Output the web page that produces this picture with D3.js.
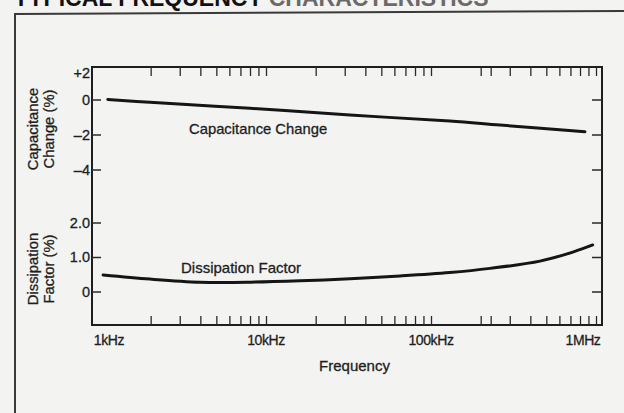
<!DOCTYPE html>
<html>
<head>
<meta charset="utf-8">
<script src="https://cdn.jsdelivr.net/npm/d3@7/dist/d3.min.js"></script>
<style>
  html, body { margin: 0; padding: 0; background: #f3f3f1; }
  svg { display: block; }
  text { font-family: "Liberation Sans", Arial, Helvetica, sans-serif; fill: #1e1e1e; stroke: #1e1e1e; stroke-width: 0.3px; }
</style>
</head>
<body>
<script>
// ---------- data ----------
const titleParts = ["TYPICAL FREQUENCY ", "CHARACTERISTICS"];

// Capacitance change (%) vs frequency (Hz)
const capFreq  = [1100, 1980, 8000, 32300, 130000, 262000, 857000];
const capValue = [0.0, -0.16, -0.50, -0.89, -1.23, -1.46, -1.84];

// Dissipation factor (%) vs frequency (Hz)
const dfFreq  = [1030, 1980, 3980, 8000, 16100, 32300, 65000, 130000, 228000, 458000, 731000, 955000];
const dfValue = [0.48, 0.36, 0.27, 0.27, 0.31, 0.37, 0.45, 0.55, 0.67, 0.88, 1.15, 1.35];

const xLabelValues = [1e3, 1e4, 1e5, 1e6];
const xLabels      = ["1kHz", "10kHz", "100kHz", "1MHz"];
const xMinorTicks  = [2e3, 3e3, 4e3, 5e3, 6e3, 7e3, 8e3, 9e3, 1e4,
                      2e4, 3e4, 4e4, 5e4, 6e4, 7e4, 8e4, 9e4, 1e5,
                      2e5, 2.3e5, 3e5, 4e5, 5e5, 6e5, 7e5, 8e5, 9e5, 1e6];

const capTickValues = [0, -2, -4];
const capLabelValues = [2, 0, -2, -4];
const capLabels = ["+2", "0", "\u20132", "\u20134"];

const dfTickValues = [2, 1, 0];
const dfLabels = ["2.0", "1.0", "0"];

// ---------- layout ----------
const W = 624, H = 413;
const frame = { left: 92, right: 602, top: 67, bottom: 325 };

const svg = d3.select("body").append("svg").attr("width", W).attr("height", H);
svg.append("rect").attr("width", W).attr("height", H).attr("fill", "#f3f3f1");

// title (cut at top edge, as in the scanned reference)
const title = svg.append("text").attr("x", 14).attr("y", 6)
  .attr("font-size", 23).attr("font-weight", "bold");
title.append("tspan").text(titleParts[0]).style("fill", "#111").style("stroke", "none");
title.append("tspan").text(titleParts[1]).style("fill", "#6a6a6a").style("stroke", "none");

// outer box
svg.append("path")
  .attr("d", `M15,${H} L15,14 L${W},11`)
  .attr("fill", "none").attr("stroke", "#3a3a3a").attr("stroke-width", 2);

// scales
const x = d3.scaleLog().domain([1e3, 1e6]).range([101, 596]);
const yCap = d3.scaleLinear().domain([-4, 0]).range([169.5, 99.5]);
const yDf = d3.scaleLinear().domain([0, 2]).range([291.5, 222.5]);

// frame
svg.append("rect")
  .attr("x", frame.left).attr("y", frame.top)
  .attr("width", frame.right - frame.left).attr("height", frame.bottom - frame.top)
  .attr("fill", "none").attr("stroke", "#1e1e1e").attr("stroke-width", 2);

// x ticks (bottom & top, inward)
const tickLen = 9;
const bottomAxis = d3.axisTop(x).tickValues(xMinorTicks).tickSize(tickLen).tickFormat("");
const topAxis = d3.axisBottom(x).tickValues(xMinorTicks).tickSize(tickLen).tickFormat("");
const gb = svg.append("g").attr("transform", `translate(0,${frame.bottom})`).call(bottomAxis);
const gt = svg.append("g").attr("transform", `translate(0,${frame.top})`).call(topAxis);
[gb, gt].forEach(g => {
  g.select(".domain").remove();
  g.selectAll("line").attr("stroke", "#2a2a2a").attr("stroke-width", 1.3);
});

// x labels
const xLabelShift = [8, 0, 0, -13];
svg.append("g").selectAll("text").data(xLabelValues).join("text")
  .attr("x", (d, i) => x(d) + xLabelShift[i])
  .attr("y", 344.5)
  .attr("text-anchor", "middle")
  .attr("font-size", 14)
  .attr("letter-spacing", -0.4)
  .text((d, i) => xLabels[i]);

svg.append("text").attr("x", 354.5).attr("y", 371)
  .attr("text-anchor", "middle").attr("font-size", 15).text("Frequency");

// y ticks (left & right inward)
function yTicks(scale, values) {
  const l = d3.axisRight(scale).tickValues(values).tickSize(9).tickFormat("");
  const r = d3.axisLeft(scale).tickValues(values).tickSize(10).tickFormat("");
  const gl = svg.append("g").attr("transform", `translate(${frame.left},0)`).call(l);
  const gr = svg.append("g").attr("transform", `translate(${frame.right},0)`).call(r);
  [gl, gr].forEach(g => {
    g.select(".domain").remove();
    g.selectAll("line").attr("stroke", "#2a2a2a").attr("stroke-width", 1.5);
  });
}
yTicks(yCap, capTickValues);
yTicks(yDf, dfTickValues);

// y labels
const capLabelDy = [8, 0, 0, 0];
svg.append("g").selectAll("text").data(capLabelValues).join("text")
  .attr("x", 90).attr("y", (d, i) => yCap(d) + 5 + capLabelDy[i])
  .attr("text-anchor", "end").attr("font-size", 14.5)
  .text((d, i) => capLabels[i]);

svg.append("g").selectAll("text").data(dfTickValues).join("text")
  .attr("x", 90).attr("y", d => yDf(d) + 5)
  .attr("text-anchor", "end").attr("font-size", 14.5)
  .text((d, i) => dfLabels[i]);

// rotated y titles
function yTitle(lines, cy) {
  const t = svg.append("text")
    .attr("transform", `translate(37.5,${cy}) rotate(-90)`)
    .attr("text-anchor", "middle").attr("font-size", 14.8);
  lines.forEach((s, i) => t.append("tspan").attr("x", 0).attr("dy", i === 0 ? 0 : 16).text(s));
}
yTitle(["Capacitance", "Change (%)"], 129);
yTitle(["Dissipation", "Factor (%)"], 269);

// curves
const line = d3.line().curve(d3.curveCatmullRom.alpha(0.5));
svg.append("path")
  .attr("d", line(capFreq.map((f, i) => [x(f), yCap(capValue[i])])))
  .attr("fill", "none").attr("stroke", "#151515").attr("stroke-width", 3)
  .attr("stroke-linecap", "round");
svg.append("path")
  .attr("d", line(dfFreq.map((f, i) => [x(f), yDf(dfValue[i])])))
  .attr("fill", "none").attr("stroke", "#151515").attr("stroke-width", 3)
  .attr("stroke-linecap", "round");

// curve labels
svg.append("text").attr("x", 189).attr("y", 134).attr("font-size", 14.8).text("Capacitance Change");
svg.append("text").attr("x", 181).attr("y", 273).attr("font-size", 15).text("Dissipation Factor");
</script>
</body>
</html>
